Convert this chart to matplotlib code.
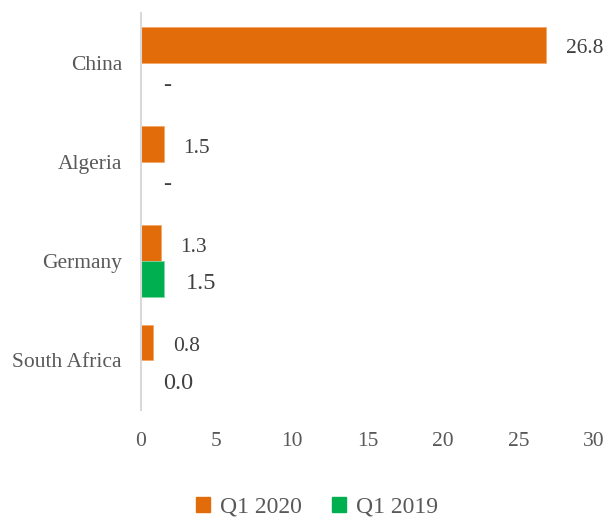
import matplotlib
matplotlib.use("Agg")
import matplotlib.pyplot as plt
import numpy as np
from matplotlib.patches import Patch

categories = ["China", "Algeria", "Germany", "South Africa"]
q1_2020 = [26.8, 1.5, 1.3, 0.8]
q1_2019 = [0.0, 0.0, 1.5, 0.0]
labels_2020 = ["26.8", "1.5", "1.3", "0.8"]
labels_2019 = ["-", "-", "1.5", "0.0"]
xticks = [0, 5, 10, 15, 20, 25, 30]

plt.rcParams['font.family'] = ['Liberation Serif', 'DejaVu Serif']
orange = "#E36C0A"
green = "#00B050"
grey = "#595959"

fig = plt.figure(figsize=(6.09, 5.2), dpi=100)
ax = fig.add_axes([141/609, 1-410/520, (594-141)/609, (410-13)/520])

y = np.arange(len(categories))
h = 0.36
ax.barh(y - h/2, q1_2020, height=h, color=orange, edgecolor="#F4A460", linewidth=0.5)
ax.barh(y + h/2, q1_2019, height=h, color=green, edgecolor="#7FD8A8", linewidth=0.5)

px = 72/100
for i in range(len(categories)):
    ax.annotate(labels_2020[i], (q1_2020[i], y[i] - h/2), xytext=(20*px, -4*px),
                textcoords="offset points", ha="left", va="center", fontsize=15.5, color="#404040")
    ax.annotate(labels_2019[i], (q1_2019[i], y[i] + h/2), xytext=(22*px, -5*px),
                textcoords="offset points", ha="left", va="center", fontsize=17.5, color="#404040")

ax.set_xlim(0, 30)
ax.set_ylim(3.5, -0.5)
ax.set_xticks(xticks)
ax.set_xticklabels([str(t) for t in xticks])
ax.set_yticks(y)
ax.set_yticklabels(categories)
ax.tick_params(axis="both", length=0, labelsize=15.5, labelcolor=grey)
ax.tick_params(axis="y", pad=19*px)
ax.tick_params(axis="x", pad=22*px)
for s in ["top", "right", "bottom"]:
    ax.spines[s].set_visible(False)
ax.spines["left"].set_color("#D9D9D9")
ax.spines["left"].set_linewidth(1.5)

handles = [Patch(color=orange, label="Q1 2020"), Patch(color=green, label="Q1 2019")]
leg = fig.legend(handles=handles, loc="center", bbox_to_anchor=(317/609, 1-507/520), ncol=2,
                 frameon=False, fontsize=17, handlelength=0.6, handleheight=0.6,
                 handletextpad=0.4, columnspacing=1.3, borderpad=0.2)
for t in leg.get_texts():
    t.set_color(grey)

fig.savefig("out.png", dpi=100)
